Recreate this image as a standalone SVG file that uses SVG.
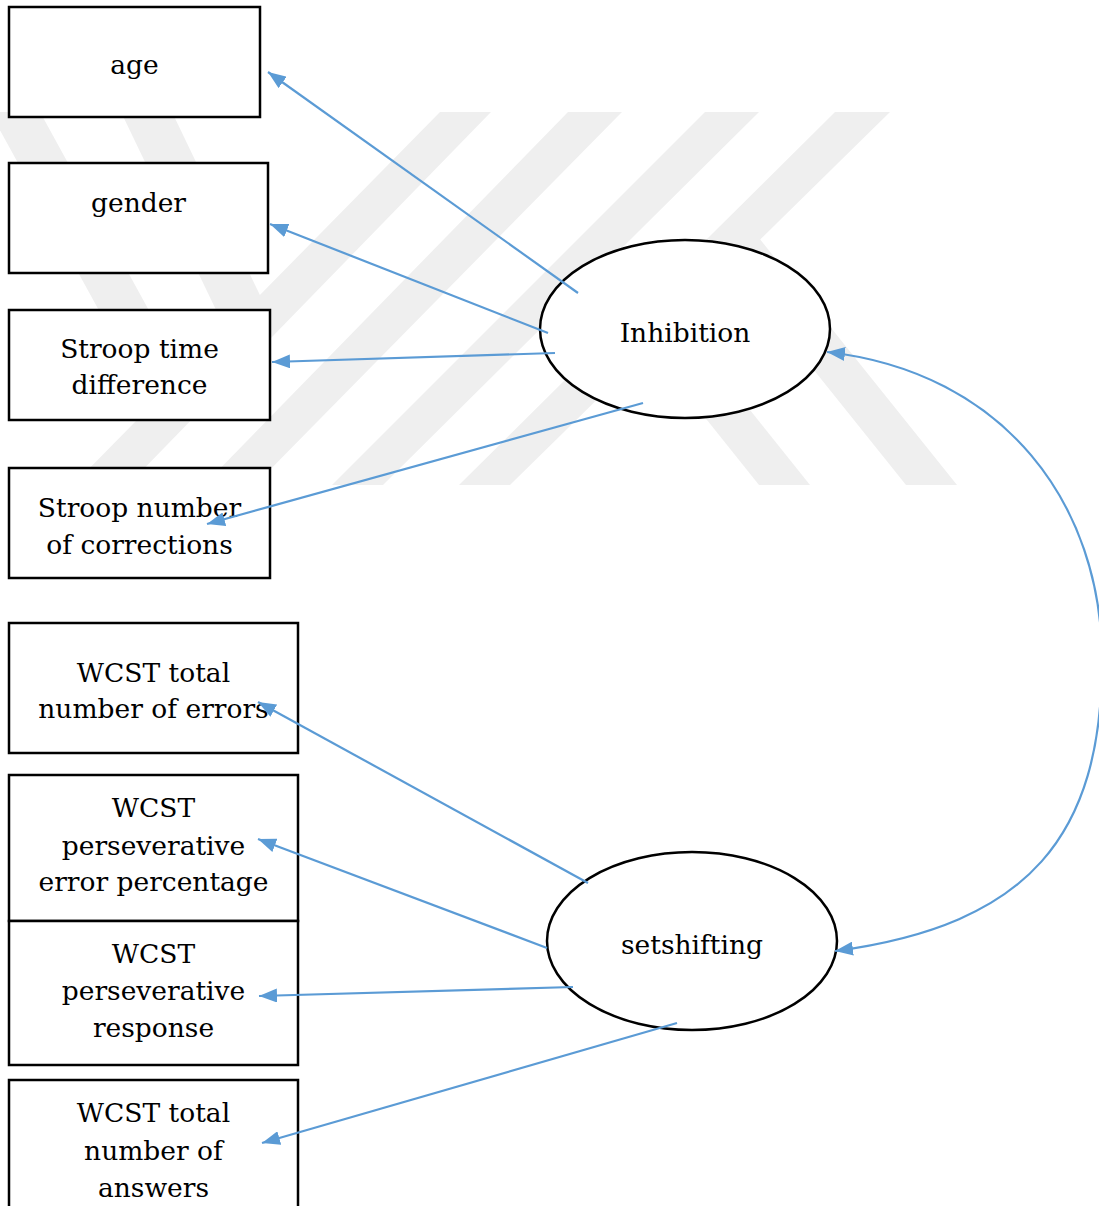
<svg xmlns="http://www.w3.org/2000/svg" width="1099" height="1206" viewBox="0 0 1099 1206">
<style>
.box{fill:#fff;stroke:#000;stroke-width:2.5}
.lat{fill:#fff;stroke:#000;stroke-width:2.5}
.t{font-family:"DejaVu Serif","Liberation Serif",serif;font-size:26.5px;fill:#000;text-anchor:middle}
.c{fill:none;stroke:#5B9BD5;stroke-width:2.2}
.wm{fill:#efefef}
</style>
<defs>
<marker id="ah" viewBox="0 0 18 14" refX="18" refY="7" markerUnits="userSpaceOnUse" markerWidth="18" markerHeight="14" orient="auto-start-reverse">
<path d="M0,0 L18,7 L0,14 z" fill="#5B9BD5"/>
</marker>
</defs>
<rect width="1099" height="1206" fill="#fff"/>
<g id="watermark">
<polygon class="wm" points="440,112 491,112 128,485 73,485"/>
<polygon class="wm" points="568,112 622,112 255,485 204,485"/>
<polygon class="wm" points="705,112 759,112 383,485 332,485"/>
<polygon class="wm" points="835,112 890,112 510,485 459,485"/>
<polygon class="wm" points="-10,112 40,112 202,407 152,407"/>
<polygon class="wm" points="121,112 172,112 268,312 217,312"/>
<polygon class="wm" points="759,485 810,485 678,320 627,320"/>
<polygon class="wm" points="906,485 957,485 759,238 708,238"/>
</g>
<g id="age">
<rect class="box" x="9" y="7" width="251" height="110"/>
<text class="t" x="134.5" y="74">age</text>
</g>
<g id="gender">
<rect class="box" x="9" y="163" width="259" height="110"/>
<text class="t" x="138.5" y="212">gender</text>
</g>
<g id="stroop-time">
<rect class="box" x="9" y="310" width="261" height="110"/>
<text class="t" x="139.5" y="358">Stroop time</text>
<text class="t" x="139.5" y="394">difference</text>
</g>
<g id="stroop-corrections">
<rect class="box" x="9" y="468" width="261" height="110"/>
<text class="t" x="139.5" y="517">Stroop number</text>
<text class="t" x="139.5" y="554">of corrections</text>
</g>
<g id="wcst-errors">
<rect class="box" x="9" y="623" width="289" height="130"/>
<text class="t" x="153.5" y="682">WCST total</text>
<text class="t" x="153.5" y="718">number of errors</text>
</g>
<g id="wcst-perseverative-error">
<rect class="box" x="9" y="775" width="289" height="146"/>
<text class="t" x="153.5" y="817">WCST</text>
<text class="t" x="153.5" y="855">perseverative</text>
<text class="t" x="153.5" y="891">error percentage</text>
</g>
<g id="wcst-perseverative-response">
<rect class="box" x="9" y="921" width="289" height="144"/>
<text class="t" x="153.5" y="963">WCST</text>
<text class="t" x="153.5" y="1000">perseverative</text>
<text class="t" x="153.5" y="1037">response</text>
</g>
<g id="wcst-answers">
<rect class="box" x="9" y="1080" width="289" height="150"/>
<text class="t" x="153.5" y="1122">WCST total</text>
<text class="t" x="153.5" y="1160">number of</text>
<text class="t" x="153.5" y="1197">answers</text>
</g>
<g id="inhibition">
<ellipse class="lat" cx="685" cy="329" rx="145" ry="89"/>
<text class="t" x="685" y="342">Inhibition</text>
</g>
<g id="setshifting">
<ellipse class="lat" cx="692" cy="941" rx="145" ry="89"/>
<text class="t" x="692" y="954">setshifting</text>
</g>
<g id="connectors">
<line class="c" x1="578" y1="293" x2="268" y2="72" marker-end="url(#ah)"/>
<line class="c" x1="548" y1="333" x2="270" y2="224" marker-end="url(#ah)"/>
<line class="c" x1="555" y1="353" x2="272" y2="362" marker-end="url(#ah)"/>
<line class="c" x1="643" y1="403" x2="207" y2="524" marker-end="url(#ah)"/>
<line class="c" x1="588" y1="883" x2="258" y2="702" marker-end="url(#ah)"/>
<line class="c" x1="547" y1="948" x2="258" y2="839" marker-end="url(#ah)"/>
<line class="c" x1="573" y1="987" x2="259" y2="996" marker-end="url(#ah)"/>
<line class="c" x1="677" y1="1023" x2="262" y2="1143" marker-end="url(#ah)"/>
<path class="c" d="M827,352 C1005,372 1102,505 1102,660 C1102,835 1030,925 835,951" marker-start="url(#ah)" marker-end="url(#ah)"/>
</g>
</svg>
